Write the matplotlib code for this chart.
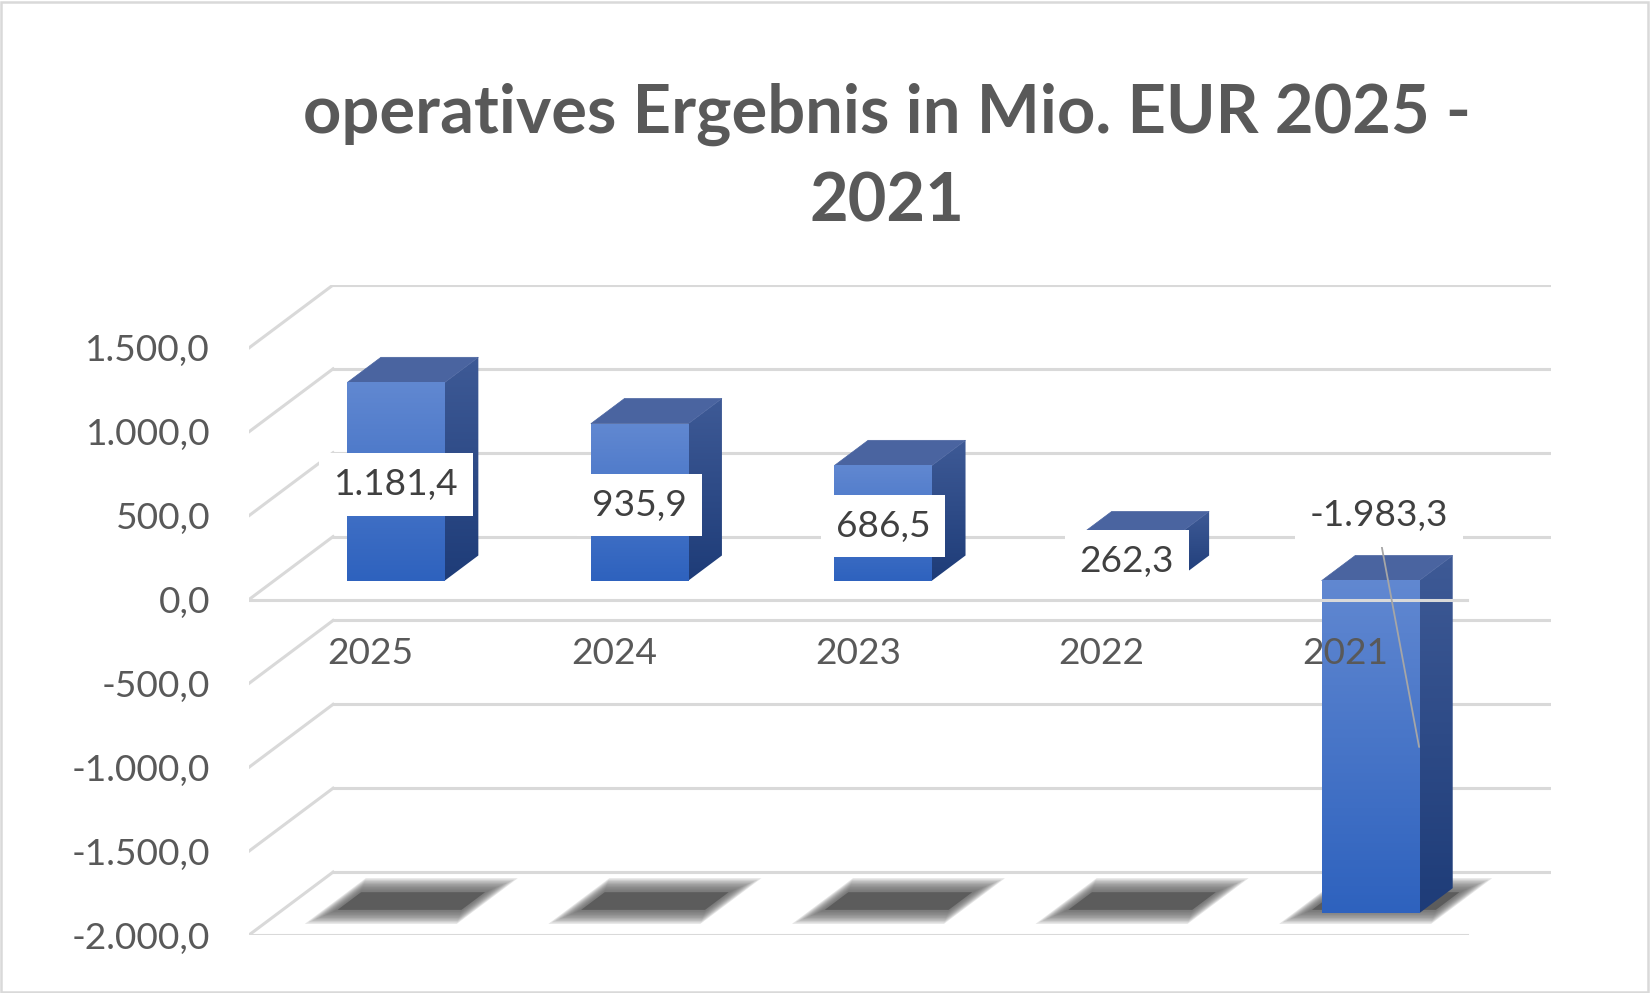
import numpy as np
import matplotlib
matplotlib.use("Agg")
import matplotlib.pyplot as plt
from matplotlib.patches import Polygon, Rectangle
from matplotlib.colors import to_rgb

years = ["2025", "2024", "2023", "2022", "2021"]
values = [1181.4, 935.9, 686.5, 262.3, -1983.3]
value_labels = ["1.181,4", "935,9", "686,5", "262,3", "-1.983,3"]
ticks = [-2000, -1500, -1000, -500, 0, 500, 1000, 1500]
title_lines = ["operatives Ergebnis in Mio. EUR 2025 -", "2021"]

# fake 3d: how far the back wall is shifted, in data units
DX, DY = 0.345, 375.0
FRONT, BACK = 0.30, 0.70   # depth of the bars (0 = front, 1 = back wall)
BAR_W = 0.40
FLOOR = -2000

GRID = "#D9D9D9"
TXT = "#595959"
FS = 26.7

plt.rcParams["font.family"] = ["Lato", "DejaVu Sans"]


def gradient(c_bottom, c_top, n=256):
    a, b = np.array(to_rgb(c_bottom)), np.array(to_rgb(c_top))
    t = np.linspace(0, 1, n)[:, None]
    return (a + (b - a) * t)[:, None, :]


def german(v):
    s = f"{v:,.1f}"
    return s.replace(",", "#").replace(".", ",").replace("#", ".")


fig = plt.figure(figsize=(16.5, 9.93), dpi=100)
ax = fig.add_axes([249 / 1650, 58 / 993, 1302 / 1650, 650 / 993])
ax.set_xlim(-0.5, 4.5 + DX)
ax.set_ylim(FLOOR, 1500 + DY)
for s in ax.spines.values():
    s.set_visible(False)
ax.set_xticks([])
ax.set_yticks(ticks, labels=[german(t) for t in ticks])
ax.tick_params(axis="y", length=0, pad=28, labelsize=FS, labelcolor=TXT)

x0, x1 = -0.5, 4.5
# back wall + side wall gridlines
for t in ticks:
    ax.plot([x0 + DX, x1 + DX], [t + DY, t + DY], color=GRID, lw=2.2, zorder=1)
    ax.plot([x0, x0 + DX], [t, t + DY], color=GRID, lw=2.2, zorder=1)
# floor front edge
ax.plot([x0, x1], [FLOOR, FLOOR], color=GRID, lw=2.2, zorder=1)

# soft shadows on the floor (stacked translucent copies)
px_x = 1302 / (5 + DX)
steps = [9, 7.5, 6, 4.5, 3, 1.5, 0, -1.5, -3, -5]
for i in range(len(values)):
    for e in steps:
        ex = e / px_x
        ed = e / 63.0
        xa, xb = i - 0.295 - ex, i + 0.255 + ex
        da, db = 0.32 - ed, 0.76 + ed
        pts = [(xa + da * DX, FLOOR + da * DY), (xb + da * DX, FLOOR + da * DY),
               (xb + db * DX, FLOOR + db * DY), (xa + db * DX, FLOOR + db * DY)]
        a = 1.0 if e == steps[-1] else 0.16
        ax.add_patch(Polygon(pts, closed=True, facecolor="#5C5C5C",
                             edgecolor="none", alpha=a, zorder=2,
                             joinstyle="round"))

# bars
dd = BACK - FRONT
for i, v in enumerate(values):
    xl = i - BAR_W / 2 + FRONT * DX
    xr = xl + BAR_W
    lo, hi = min(0, v) + FRONT * DY, max(0, v) + FRONT * DY

    side = Polygon([(xr, lo), (xr, hi), (xr + dd * DX, hi + dd * DY),
                    (xr + dd * DX, lo + dd * DY)], closed=True,
                   facecolor="none", edgecolor="none", zorder=3)
    ax.add_patch(side)
    im = ax.imshow(gradient("#1E3C78", "#3E5A96"), origin="lower", aspect="auto",
                   extent=(xr, xr + dd * DX, lo, hi + dd * DY), zorder=3,
                   interpolation="bilinear")
    im.set_clip_path(side)

    ax.add_patch(Polygon([(xl, hi), (xr, hi), (xr + dd * DX, hi + dd * DY),
                          (xl + dd * DX, hi + dd * DY)], closed=True,
                         facecolor="#4A64A0", edgecolor="#4A64A0", lw=0.5, zorder=3))

    ax.imshow(gradient("#2E62BE", "#6188D1"), origin="lower", aspect="auto",
              extent=(xl, xr, lo, hi), zorder=3.5, interpolation="bilinear")

# front line at zero sits over the bars
ax.plot([x0, x1], [0, 0], color=GRID, lw=2.2, zorder=4)

ax.set_xlim(-0.5, 4.5 + DX)
ax.set_ylim(FLOOR, 1500 + DY)

box = dict(boxstyle="square,pad=0.4", facecolor="white", edgecolor="none")
for i, (v, lab) in enumerate(zip(values, value_labels)):
    xc = i + FRONT * DX
    if v >= 0:
        ax.text(xc, v / 2 + FRONT * DY, lab, ha="center", va="center_baseline",
                fontsize=FS, color="#404040", bbox=box, zorder=6)
    else:
        ax.annotate(lab, xy=(xc + BAR_W / 2, v / 2 + FRONT * DY), xytext=(-40, 234),
                    textcoords="offset pixels", ha="center", va="center_baseline",
                    fontsize=FS, color="#404040", bbox=box, zorder=6,
                    arrowprops=dict(arrowstyle="-", color="#A6A6A6", lw=1.3,
                                    shrinkA=0, shrinkB=0, relpos=(0.5, 0)))

for i, y in enumerate(years):
    ax.annotate(y, xy=(i, 0), xytext=(0, -51), textcoords="offset pixels",
                ha="center", va="center_baseline", fontsize=FS, color=TXT, zorder=5)

fig.text(887 / 1650, 1 - 133 / 993, title_lines[0], ha="center", va="baseline",
         fontsize=48.2, fontweight="bold", color=TXT)
fig.text(887 / 1650, 1 - 221 / 993, title_lines[1], ha="center", va="baseline",
         fontsize=48.2, fontweight="bold", color=TXT)

fig.add_artist(Rectangle((1 / 1650, 1 / 993), 1 - 3 / 1650, 1 - 3 / 993,
                         transform=fig.transFigure, fill=False,
                         edgecolor=GRID, lw=1.8))

fig.savefig("out.png", dpi=100, facecolor="white")
